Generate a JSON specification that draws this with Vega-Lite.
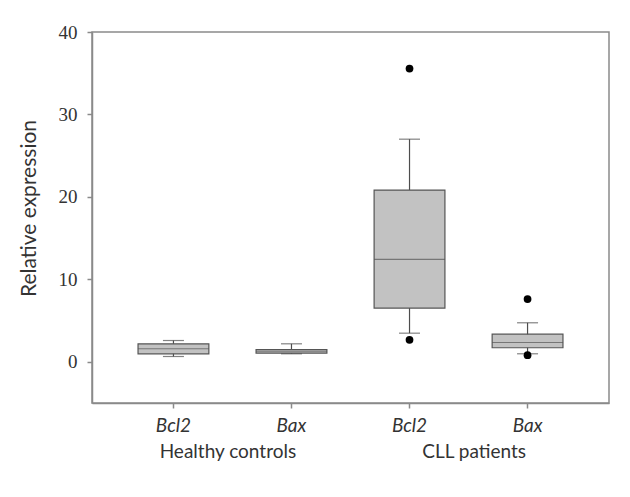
{
  "$schema": "https://vega.github.io/schema/vega-lite/v6.json",
  "width": 517,
  "height": 371,
  "autosize": {"type": "none"},
  "padding": {"left": 92, "top": 32, "right": 21, "bottom": 94},
  "background": "white",
  "config": {
    "view": {"stroke": "#8a8a8a", "strokeWidth": 1.5},
    "axis": {"grid": false, "domainColor": "#8a8a8a", "domainWidth": 1.5, "tickColor": "#8a8a8a", "tickWidth": 1.5, "labelColor": "#333333", "titleColor": "#333333"}
  },
  "datasets": {
    "boxes": [
      {"key": "Healthy controls|Bcl2", "lower": 0.64, "q1": 0.97, "median": 1.58, "q3": 2.18, "upper": 2.58},
      {"key": "Healthy controls|Bax", "lower": 0.97, "q1": 1.04, "median": 1.3, "q3": 1.49, "upper": 2.18},
      {"key": "CLL patients|Bcl2", "lower": 3.47, "q1": 6.51, "median": 12.41, "q3": 20.83, "upper": 27.0},
      {"key": "CLL patients|Bax", "lower": 0.97, "q1": 1.7, "median": 2.34, "q3": 3.35, "upper": 4.73}
    ],
    "outliers": [
      {"key": "CLL patients|Bcl2", "value": 35.56},
      {"key": "CLL patients|Bcl2", "value": 2.67},
      {"key": "CLL patients|Bax", "value": 7.6},
      {"key": "CLL patients|Bax", "value": 0.8}
    ],
    "groups": [
      {"group": "Healthy controls"},
      {"group": "CLL patients"}
    ]
  },
  "layer": [
    {
      "layer": [
        {
          "data": {"name": "boxes"},
          "mark": {"type": "rule", "color": "#4d4d4d", "strokeWidth": 1.2},
          "encoding": {
            "x": {
              "field": "key", "type": "nominal",
              "scale": {"domain": ["Healthy controls|Bcl2", "Healthy controls|Bax", "CLL patients|Bcl2", "CLL patients|Bax"], "paddingInner": 0.4, "paddingOuter": 0.39},
              "axis": {"title": null, "labelExpr": "split(datum.label, '|')[1]", "labelAngle": 0, "labelFont": "Lato", "labelFontStyle": "italic", "labelFontSize": 19, "tickSize": 5, "labelPadding": 8}
            },
            "y": {
              "field": "lower", "type": "quantitative",
              "scale": {"domain": [-5, 40], "nice": false, "zero": false},
              "axis": {"title": "Relative expression", "values": [0, 10, 20, 30, 40], "labelFont": "Liberation Serif", "labelFontSize": 19, "tickSize": 5, "labelPadding": 10, "titleFont": "Lato", "titleFontSize": 21, "titleFontWeight": "normal", "titlePadding": 19, "titleY": 176}
            },
            "y2": {"field": "upper"}
          }
        },
        {
          "data": {"name": "boxes"},
          "mark": {"type": "bar", "fill": "#c2c2c2", "stroke": "#555555", "strokeWidth": 1.2},
          "encoding": {
            "x": {"field": "key", "type": "nominal"},
            "y": {"field": "q1", "type": "quantitative"},
            "y2": {"field": "q3"}
          }
        },
        {
          "data": {"name": "boxes"},
          "mark": {"type": "tick", "color": "#555555", "size": 71, "thickness": 1.2},
          "encoding": {
            "x": {"field": "key", "type": "nominal"},
            "y": {"field": "median", "type": "quantitative"}
          }
        },
        {
          "data": {"name": "boxes"},
          "mark": {"type": "tick", "color": "#4d4d4d", "size": 21, "thickness": 1.2},
          "encoding": {
            "x": {"field": "key", "type": "nominal"},
            "y": {"field": "lower", "type": "quantitative"}
          }
        },
        {
          "data": {"name": "boxes"},
          "mark": {"type": "tick", "color": "#4d4d4d", "size": 21, "thickness": 1.2},
          "encoding": {
            "x": {"field": "key", "type": "nominal"},
            "y": {"field": "upper", "type": "quantitative"}
          }
        },
        {
          "data": {"name": "outliers"},
          "mark": {"type": "point", "filled": true, "color": "#000000", "opacity": 1, "size": 60},
          "encoding": {
            "x": {"field": "key", "type": "nominal"},
            "y": {"field": "value", "type": "quantitative"}
          }
        }
      ]
    },
    {
      "data": {"name": "groups"},
      "mark": {"type": "point", "opacity": 0},
      "encoding": {
        "x": {
          "field": "group", "type": "nominal",
          "scale": {"type": "point", "domain": ["Healthy controls", "CLL patients"], "padding": 0.55},
          "axis": {"title": null, "orient": "bottom", "domain": false, "ticks": false, "labelAngle": 0, "labelFont": "Lato", "labelFontSize": 19, "labelPadding": 39, "labelColor": "#333333"}
        }
      }
    }
  ],
  "resolve": {"scale": {"x": "independent"}, "axis": {"x": "independent"}}
}
